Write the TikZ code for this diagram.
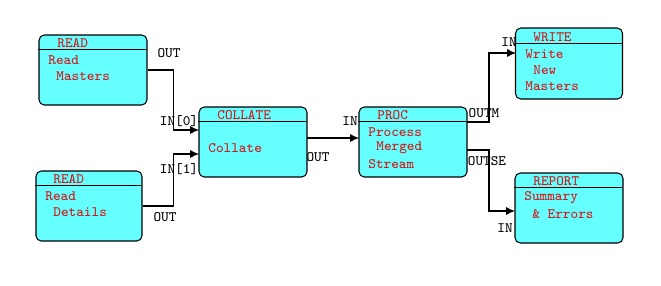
\documentclass[tikz,border=0pt]{standalone}
\usepackage{fontspec}
\usetikzlibrary{arrows.meta}
\definecolor{boxcyan}{RGB}{102,255,255}
\definecolor{txtred}{RGB}{210,20,20}
\tikzset{
  blk/.style={draw,line width=0.6pt,fill=boxcyan,rounded corners=3pt,inner sep=0pt},
  hd/.style={anchor=west,text=txtred,inner sep=0pt,font=\ttfamily\fontsize{8.2}{9}\selectfont},
  tx/.style={anchor=west,text=txtred,inner sep=0pt,font=\ttfamily\fontsize{8.2}{9}\selectfont},
  port/.style={inner sep=0pt,font=\ttfamily\fontsize{8.2}{9}\selectfont},
  conn/.style={line width=0.6pt,-{Latex[length=5pt,width=4.5pt]}},
  wire/.style={line width=0.6pt}
}
\begin{document}
\begin{tikzpicture}[x=0.02cm,y=-0.02cm]
    \useasboundingbox (0,0) rectangle (661,285);
    % boxes
    \node[blk,minimum width=2.16cm,minimum height=1.4cm] (rdm) at (93,70) {};
    \node[blk,minimum width=2.12cm,minimum height=1.4cm] (rdd) at (89,206) {};
    \node[blk,minimum width=2.16cm,minimum height=1.4cm] (col) at (253,142) {};
    \node[blk,minimum width=2.16cm,minimum height=1.4cm] (proc) at (413,142) {};
    \node[blk,minimum width=2.14cm,minimum height=1.42cm] (wr) at (569,63.5) {};
    \node[blk,minimum width=2.16cm,minimum height=1.4cm] (rep) at (569,208) {};
    % header lines
    \draw[wire] (rdm.north west) ++(0,15) -- ++(108,0);
    \draw[wire] (rdd.north west) ++(0,15) -- ++(106,0);
    \draw[wire] (col.north west) ++(0,15) -- ++(108,0);
    \draw[wire] (proc.north west) ++(0,15) -- ++(108,0);
    \draw[wire] (wr.north west) ++(0,16) -- ++(107,0);
    \draw[wire] (rep.north west) ++(0,15) -- ++(108,0);
    % texts
    \node[hd] (rdm-h) at (57,43) {READ};
    \node[tx] (rdm-1) at (48,60) {Read};
    \node[tx] (rdm-2) at (56,76) {Masters};
    \node[hd] (rdd-h) at (53,179) {READ};
    \node[tx] (rdd-1) at (45,196) {Read};
    \node[tx] (rdd-2) at (53,212) {Details};
    \node[hd] (col-h) at (217,115) {COLLATE};
    \node[tx] (col-1) at (208,148) {Collate};
    \node[hd] (proc-h) at (377,115) {PROC};
    \node[tx] (proc-1) at (368,132) {Process};
    \node[tx] (proc-2) at (376,148) {Merged};
    \node[tx] (proc-3) at (368,164) {Stream};
    \node[hd] (wr-h) at (533,37) {WRITE};
    \node[tx] (wr-1) at (525,54) {Write};
    \node[tx] (wr-2) at (533,70) {New};
    \node[tx] (wr-3) at (525,86) {Masters};
    \node[hd] (rep-h) at (533,181) {REPORT};
    \node[tx] (rep-1) at (524,198) {Summary};
    \node[tx] (rep-2) at (532,214) {\& Errors};
    % ports
    \coordinate (c-in0) at (199,130);
    \coordinate (c-in1) at (199,154);
    \coordinate (c-out) at (307,138);
    \coordinate (p-in) at (359,138);
    \coordinate (p-outm) at (467,122);
    \coordinate (p-outse) at (467,150);
    \coordinate (w-in) at (516,53);
    \coordinate (r-in) at (515,211);
    % connectors
    \draw[conn] (rdm.east) -- ++(26,0) |- (c-in0);
    \draw[conn] (rdd.east) -- ++(31,0) |- (c-in1);
    \draw[conn] (c-out) -- (p-in);
    \draw[conn] (p-outm) -- ++(22,0) |- (w-in);
    \draw[conn] (p-outse) -- ++(22,0) |- (r-in);
    % port labels
    \node[port] (l-out1) at (169,53) {OUT};
    \node[port] (l-in0) at (179,121) {IN[0]};
    \node[port] (l-in1) at (179,169) {IN[1]};
    \node[port] (l-out2) at (165,217) {OUT};
    \node[port] (l-cout) at (318,157) {OUT};
    \node[port] (l-pin) at (350,121) {IN};
    \node[port] (l-outm) at (484,113) {OUTM};
    \node[port] (l-outse) at (487,161) {OUTSE};
    \node[port] (l-win) at (509,42) {IN};
    \node[port] (l-rin) at (505,228) {IN};
\end{tikzpicture}
\end{document}
